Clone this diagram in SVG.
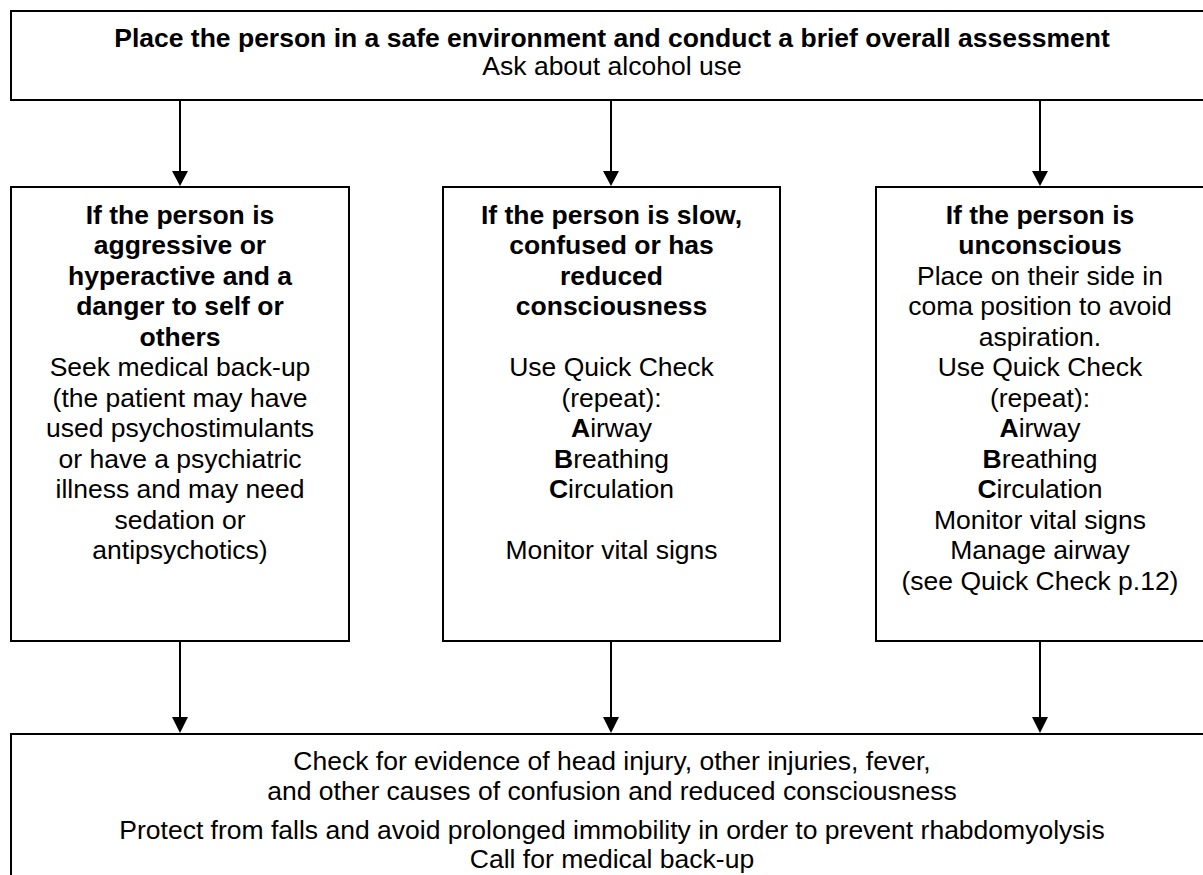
<svg xmlns="http://www.w3.org/2000/svg" width="1203" height="875" viewBox="0 0 1203 875">
<style>
.box{fill:#fff;stroke:#000;stroke-width:2}
.t{font-family:"Liberation Sans",Arial,sans-serif;font-size:26.5px;fill:#000;text-anchor:middle}
.b{font-weight:bold}
.c{stroke:#000;stroke-width:2;fill:none}
</style>
<rect width="1203" height="875" fill="#fff"/>
<g id="connectors">
<line class="c" x1="180" y1="100" x2="180" y2="172"/><polygon points="172,171 188,171 180,186"/>
<line class="c" x1="611" y1="100" x2="611" y2="172"/><polygon points="603,171 619,171 611,186"/>
<line class="c" x1="1040" y1="100" x2="1040" y2="172"/><polygon points="1032,171 1048,171 1040,186"/>
<line class="c" x1="180" y1="641" x2="180" y2="718"/><polygon points="172,717 188,717 180,733"/>
<line class="c" x1="611" y1="641" x2="611" y2="718"/><polygon points="603,717 619,717 611,733"/>
<line class="c" x1="1040" y1="641" x2="1040" y2="718"/><polygon points="1032,717 1048,717 1040,733"/>
</g>
<g id="top">
<rect class="box" x="11" y="11" width="1202" height="89"/>
<text class="t b" x="612" y="47">Place the person in a safe environment and conduct a brief overall assessment</text>
<text class="t" x="612" y="75">Ask about alcohol use</text>
</g>
<g id="aggressive">
<rect class="box" x="11" y="187" width="338" height="454"/>
<text class="t b" x="180" y="223.5">If the person is</text>
<text class="t b" x="180" y="254">aggressive or</text>
<text class="t b" x="180" y="284.5">hyperactive and a</text>
<text class="t b" x="180" y="315">danger to self or</text>
<text class="t b" x="180" y="345.5">others</text>
<text class="t" x="180" y="376">Seek medical back-up</text>
<text class="t" x="180" y="406.5">(the patient may have</text>
<text class="t" x="180" y="437">used psychostimulants</text>
<text class="t" x="180" y="467.5">or have a psychiatric</text>
<text class="t" x="180" y="498">illness and may need</text>
<text class="t" x="180" y="528.5">sedation or</text>
<text class="t" x="180" y="559">antipsychotics)</text>
</g>
<g id="slow">
<rect class="box" x="443" y="187" width="337" height="454"/>
<text class="t b" x="611.5" y="223.5">If the person is slow,</text>
<text class="t b" x="611.5" y="254">confused or has</text>
<text class="t b" x="611.5" y="284.5">reduced</text>
<text class="t b" x="611.5" y="315">consciousness</text>
<text class="t" x="611.5" y="376">Use Quick Check</text>
<text class="t" x="611.5" y="406.5">(repeat):</text>
<text class="t" x="611.5" y="437"><tspan class="b">A</tspan>irway</text>
<text class="t" x="611.5" y="467.5"><tspan class="b">B</tspan>reathing</text>
<text class="t" x="611.5" y="498"><tspan class="b">C</tspan>irculation</text>
<text class="t" x="611.5" y="559">Monitor vital signs</text>
</g>
<g id="unconscious">
<rect class="box" x="876" y="187" width="340" height="454"/>
<text class="t b" x="1040" y="223.5">If the person is</text>
<text class="t b" x="1040" y="254">unconscious</text>
<text class="t" x="1040" y="284.5">Place on their side in</text>
<text class="t" x="1040" y="315">coma position to avoid</text>
<text class="t" x="1040" y="345.5">aspiration.</text>
<text class="t" x="1040" y="376">Use Quick Check</text>
<text class="t" x="1040" y="406.5">(repeat):</text>
<text class="t" x="1040" y="437"><tspan class="b">A</tspan>irway</text>
<text class="t" x="1040" y="467.5"><tspan class="b">B</tspan>reathing</text>
<text class="t" x="1040" y="498"><tspan class="b">C</tspan>irculation</text>
<text class="t" x="1040" y="528.5">Monitor vital signs</text>
<text class="t" x="1040" y="559">Manage airway</text>
<text class="t" x="1040" y="589.5">(see Quick Check p.12)</text>
</g>
<g id="bottom">
<rect class="box" x="11" y="734" width="1202" height="160"/>
<text class="t" x="612" y="770">Check for evidence of head injury, other injuries, fever,</text>
<text class="t" x="612" y="800">and other causes of confusion and reduced consciousness</text>
<text class="t" x="612" y="839">Protect from falls and avoid prolonged immobility in order to prevent rhabdomyolysis</text>
<text class="t" x="612" y="868">Call for medical back-up</text>
</g>
</svg>
